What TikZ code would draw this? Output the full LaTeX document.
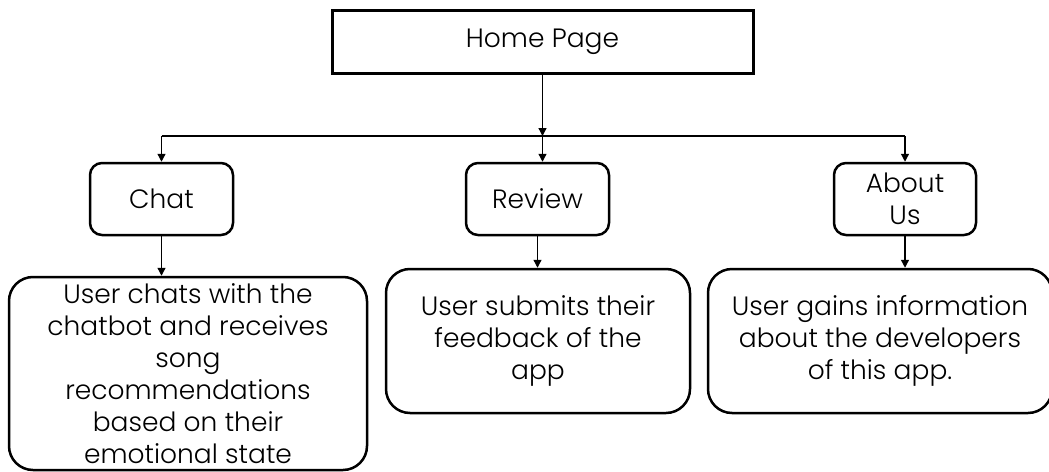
\documentclass[tikz,border=0pt]{standalone}
\usepackage{fontspec}
\setmainfont{Poppins Light}
\usetikzlibrary{arrows.meta}
\begin{document}
\begin{tikzpicture}[x=1pt,y=-1pt,
  txt/.style={font=\fontsize{26.5}{32}\selectfont, align=center, inner sep=0pt},
  homebox/.style={txt, draw, line width=3pt, minimum width=421pt, minimum height=63pt},
  pagebox/.style={txt, draw, line width=2.5pt, rounded corners=12pt, minimum width=143pt, minimum height=72pt},
  descbox/.style={txt, draw, line width=2.5pt, rounded corners=24pt},
  link/.style={line width=1.3pt, -{Triangle[width=8pt,length=8pt]}},
  wire/.style={line width=1.3pt}]
\useasboundingbox (0,0) rectangle (1049,471);

% top level page
\node[homebox] (home) at (542.5,41.5) {Home Page};

% second level pages
\node[pagebox] (chat) at (161.5,199) {Chat};
\node[pagebox] (review) at (537.5,199) {Review};
\node[pagebox, minimum width=142pt] (about) at (905,199) {About\\Us};

% page descriptions
\node[descbox, minimum width=358pt, minimum height=193pt] (chatd) at (188,373.5)
  {User chats with the\\chatbot and receives\\song\\recommendations\\based on their\\emotional state};
\node[descbox, minimum width=304pt, minimum height=144pt] (reviewd) at (538,341)
  {User submits their\\feedback of the\\app};
\node[descbox, minimum width=344pt, minimum height=144pt] (aboutd) at (880,341)
  {User gains information\\about the developers\\of this app.};

% branching connectors
\coordinate (junc) at (542.5,136);
\coordinate (bl) at (chat.north |- junc);
\coordinate (br) at (about.north |- junc);
\draw[link] (home.south) -- (junc);
\draw[wire] (bl) -- (br);
\draw[link] (bl) -- (chat.north);
\draw[link] (junc) -- (junc |- review.north);
\draw[link] (br) -- (about.north);

% page to description
\draw[link] (chat.south) -- (chat.south |- chatd.north);
\draw[link] (review.south) -- (review.south |- reviewd.north);
\draw[link] (about.south) -- (about.south |- aboutd.north);
\end{tikzpicture}
\end{document}
